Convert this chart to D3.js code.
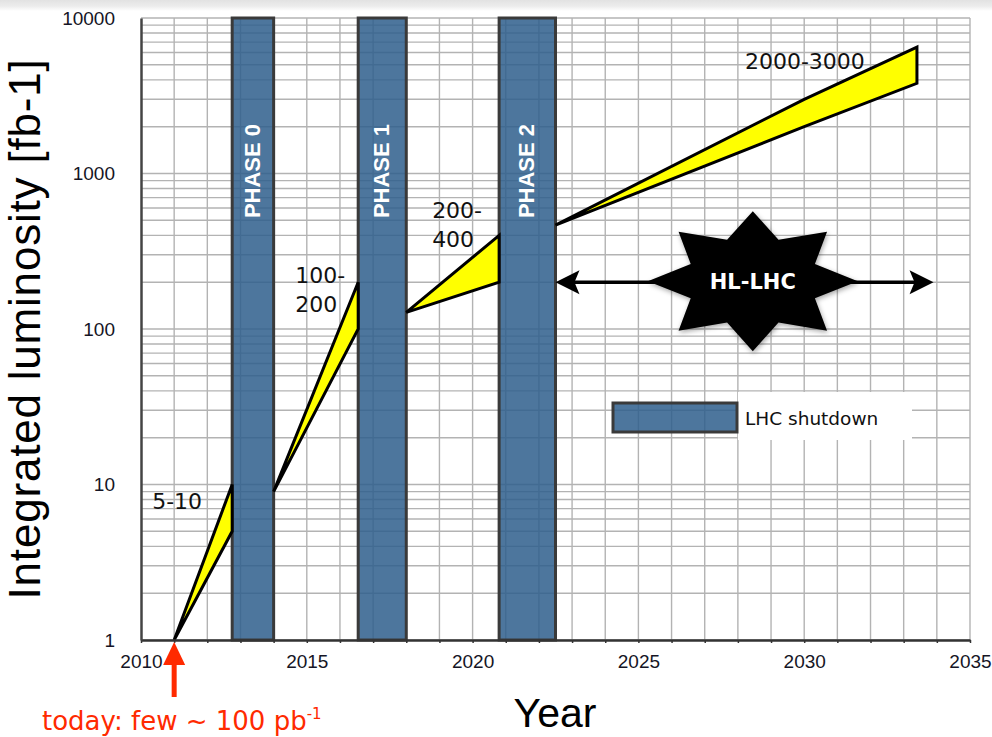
<!DOCTYPE html>
<html>
<head>
<meta charset="utf-8">
<script src="https://cdn.jsdelivr.net/npm/d3@7"></script>
<style>
  html, body { margin: 0; padding: 0; background: #fff; }
  svg { display: block; }
</style>
</head>
<body>
<svg id="chart" width="992" height="737"></svg>
<script>
// ---- data -------------------------------------------------------------
const yearTicks = d3.range(2010, 2036);
const yearLabels = [2010, 2015, 2020, 2025, 2030, 2035];
const lumiTicks = [1, 10, 100, 1000, 10000];

// LHC shutdown periods
const shutdownNames = ["PHASE 0", "PHASE 1", "PHASE 2"];
const shutdownStart = [2012.75, 2016.55, 2020.8];
const shutdownEnd = [2014.0, 2018.0, 2022.5];

// Integrated luminosity projections (fb-1): lower / upper envelope per run
const wedgeLabels = [["5-10"], ["100-", "200"], ["200-", "400"], ["2000-3000"]];
const wedgeYears = [[2011, 2012.75], [2014, 2016.55], [2018, 2020.8], [2022.5, 2030, 2033.4]];
const wedgeLow = [[1, 5], [9, 100], [128, 200], [465, 2000, 3800]];
const wedgeHigh = [[1, 10], [9, 200], [128, 400], [465, 3000, 6500]];

// HL-LHC era marker
const hlYears = [2022.5, 2033.9];
const hlLevel = 200;
const hlStarYear = 2028.45;
const todayYear = 2011;

// ---- scales -----------------------------------------------------------
const svg = d3.select("#chart");
const x = d3.scaleLinear().domain([2010, 2035]).range([141, 970]);
const y = d3.scaleLog().domain([1, 10000]).range([640, 18]);

const sans = "'Liberation Sans', Arial, Helvetica, sans-serif";
const comic = "'Comic Sans MS', 'DejaVu Sans', sans-serif";

// soft shade along the top edge
const defs = svg.append("defs");
const grad = defs.append("linearGradient").attr("id", "topShade")
  .attr("x1", 0).attr("y1", 0).attr("x2", 0).attr("y2", 1);
grad.append("stop").attr("offset", "0%").attr("stop-color", "#e2e2e2");
grad.append("stop").attr("offset", "55%").attr("stop-color", "#ececec");
grad.append("stop").attr("offset", "100%").attr("stop-color", "#ffffff");
svg.append("rect").attr("x", 0).attr("y", 0).attr("width", 992).attr("height", 11)
  .attr("fill", "url(#topShade)");

const shadow = defs.append("filter").attr("id", "starShadow")
  .attr("x", "-20%").attr("y", "-20%").attr("width", "140%").attr("height", "140%");
shadow.append("feDropShadow").attr("dx", 1).attr("dy", 2).attr("stdDeviation", 2.5)
  .attr("flood-color", "#000").attr("flood-opacity", 0.35);

// ---- grid -------------------------------------------------------------
const grid = svg.append("g").attr("stroke", "#b3b3b3").attr("stroke-width", 1.4);
grid.selectAll("line.v").data(yearTicks.slice(1)).join("line")
  .attr("x1", d => x(d)).attr("x2", d => x(d))
  .attr("y1", y(10000)).attr("y2", y(1));

const minorLumi = [];
[1, 10, 100, 1000].forEach(dec => d3.range(1, 10).forEach(k => minorLumi.push(dec * k)));
minorLumi.push(10000);
grid.selectAll("line.h").data(minorLumi).join("line")
  .attr("x1", x(2010)).attr("x2", x(2035))
  .attr("y1", d => y(d)).attr("y2", d => y(d));

// ---- shutdown bars ----------------------------------------------------
const barFill = "#2e5e8c";
const bars = svg.append("g");
shutdownNames.forEach((name, i) => {
  const x0 = x(shutdownStart[i]), x1 = x(shutdownEnd[i]);
  bars.append("rect")
    .attr("x", x0).attr("y", y(10000))
    .attr("width", x1 - x0).attr("height", y(1) - y(10000))
    .attr("fill", barFill).attr("fill-opacity", 0.85)
    .attr("stroke", "#3a3a3a").attr("stroke-width", 3);
  bars.append("text")
    .attr("transform", `translate(${(x0 + x1) / 2 - 1},${y(10000) + 153}) rotate(-90)`)
    .attr("text-anchor", "middle").attr("dy", "0.36em")
    .attr("font-family", sans).attr("font-weight", "bold").attr("font-size", 22)
    .attr("fill", "#fff").text(name);
});

// ---- luminosity wedges -----------------------------------------------
const wedgeG = svg.append("g");
const labelOffsets = [[-80, 17], [-63, -7], [-67, -25], [-172, 14]];
wedgeYears.forEach((yrs, i) => {
  const upper = yrs.map((yr, j) => [x(yr), y(wedgeHigh[i][j])]);
  const lower = yrs.map((yr, j) => [x(yr), y(wedgeLow[i][j])]).reverse();
  wedgeG.append("path")
    .attr("d", d3.line()(upper.concat(lower)) + "Z")
    .attr("fill", "#ffff00").attr("stroke", "#000")
    .attr("stroke-width", 3).attr("stroke-linejoin", "miter");

  const end = upper[upper.length - 1];
  const t = wedgeG.append("text")
    .attr("font-family", comic).attr("font-size", 22).attr("fill", "#111");
  wedgeLabels[i].forEach((line, k) => {
    t.append("tspan")
      .attr("x", end[0] + labelOffsets[i][0])
      .attr("y", end[1] + labelOffsets[i][1] + k * 29)
      .attr("dy", "0.36em").text(line);
  });
});

// ---- axes -------------------------------------------------------------
const xAxis = svg.append("g").attr("transform", `translate(0,${y(1)})`)
  .call(d3.axisBottom(x).tickValues(yearTicks).tickSize(3).tickSizeOuter(0).tickPadding(12)
    .tickFormat(d => yearLabels.includes(d) ? d : ""));
xAxis.select(".domain").attr("stroke", "#333").attr("stroke-width", 2.5);
xAxis.selectAll(".tick line").attr("stroke", "#333").attr("stroke-width", 1.5);
xAxis.selectAll(".tick text").attr("font-family", sans).attr("font-size", 19).attr("fill", "#151525");

const yAxis = svg.append("g").attr("transform", `translate(${x(2010)},0)`)
  .call(d3.axisLeft(y).tickValues(lumiTicks).tickSize(0).tickSizeOuter(0).tickPadding(26)
    .tickFormat(d3.format("d")));
yAxis.select(".domain").attr("stroke", "#444").attr("stroke-width", 2.5);
yAxis.selectAll(".tick text").attr("font-family", sans).attr("font-size", 19).attr("fill", "#151525");

svg.append("text")
  .attr("transform", `translate(40,${(y(1) + y(10000)) / 2}) rotate(-90)`)
  .attr("text-anchor", "middle")
  .attr("font-family", sans).attr("font-size", 44).attr("letter-spacing", 0.8).attr("fill", "#000")
  .text("Integrated luminosity [fb-1]");

svg.append("text")
  .attr("x", 555).attr("y", 727).attr("text-anchor", "middle")
  .attr("font-family", sans).attr("font-size", 41).attr("fill", "#000")
  .text("Year");

// ---- HL-LHC marker ----------------------------------------------------
const hlY = y(hlLevel);
const ax0 = x(hlYears[0]), ax1 = x(hlYears[1]);
const hl = svg.append("g");
hl.append("line").attr("x1", ax0 + 10).attr("x2", ax1 - 10)
  .attr("y1", hlY).attr("y2", hlY).attr("stroke", "#000").attr("stroke-width", 3.5);
hl.append("path")
  .attr("d", `M${ax1},${hlY} L${ax1 - 24},${hlY - 12} L${ax1 - 19},${hlY} L${ax1 - 24},${hlY + 12} Z`)
  .attr("fill", "#000");
hl.append("path")
  .attr("d", `M${ax0},${hlY} L${ax0 + 24},${hlY - 12} L${ax0 + 19},${hlY} L${ax0 + 24},${hlY + 12} Z`)
  .attr("fill", "#000");

const sc = [x(hlStarYear), hlY - 1];
const starPts = d3.range(16).map(i => {
  const a = -Math.PI / 2 + i * Math.PI / 8;
  const r = i % 2 === 0 ? 1 : 0.64;
  return [sc[0] + 105 * r * Math.cos(a), sc[1] + 70 * r * Math.sin(a)];
});
hl.append("path").attr("d", d3.line()(starPts) + "Z")
  .attr("fill", "#000").attr("filter", "url(#starShadow)");
hl.append("text").attr("x", sc[0]).attr("y", sc[1]).attr("dy", "0.36em")
  .attr("text-anchor", "middle")
  .attr("font-family", comic).attr("font-weight", "bold").attr("font-size", 21)
  .attr("fill", "#fff").text("HL-LHC");

// ---- legend -----------------------------------------------------------
const lg = svg.append("g");
lg.append("rect").attr("x", 738).attr("y", 392).attr("width", 174).attr("height", 48).attr("fill", "#fff");
lg.append("rect").attr("x", 613).attr("y", 403).attr("width", 124).attr("height", 29)
  .attr("fill", barFill).attr("fill-opacity", 0.85)
  .attr("stroke", "#3a3a3a").attr("stroke-width", 3);
lg.append("text").attr("x", 745).attr("y", 425)
  .attr("font-family", comic).attr("font-size", 18.5).attr("fill", "#111")
  .text("LHC shutdown");

// ---- "today" marker ---------------------------------------------------
const tx = x(todayYear);
const red = "#ff2a00";
svg.append("path")
  .attr("d", `M${tx},${y(1) + 2} L${tx - 11},${y(1) + 25} L${tx + 11},${y(1) + 25} Z`)
  .attr("fill", red);
svg.append("rect").attr("x", tx - 2.5).attr("y", y(1) + 22).attr("width", 5).attr("height", 35)
  .attr("fill", red);
const today = svg.append("text").attr("x", 42).attr("y", 730)
  .attr("font-family", comic).attr("font-size", 26).attr("fill", red);
today.append("tspan").text("today: few ~ 100 pb");
today.append("tspan").attr("dy", -11).attr("font-size", 15).text("-1");
</script>
</body>
</html>
